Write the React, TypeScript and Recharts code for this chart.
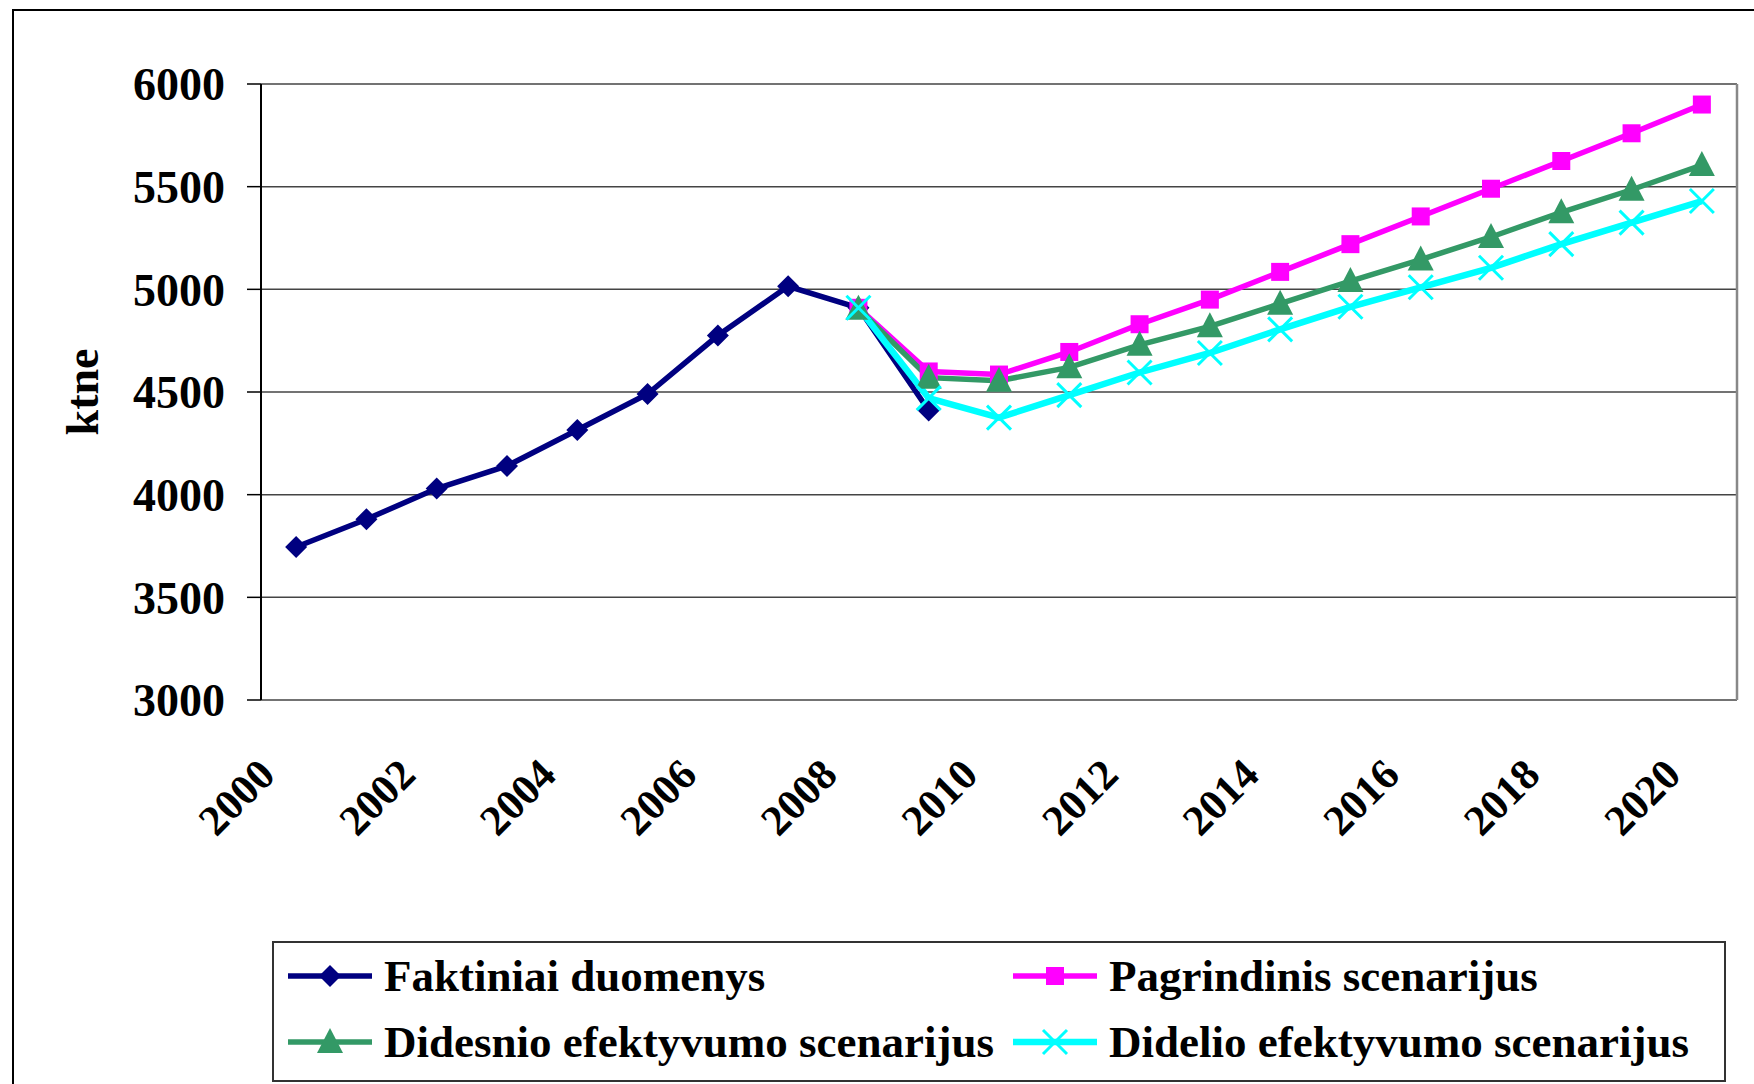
import React from 'react';
import { LineChart, Line, XAxis, YAxis, CartesianGrid, ReferenceLine } from 'recharts';

const years = [2000, 2001, 2002, 2003, 2004, 2005, 2006, 2007, 2008, 2009, 2010, 2011, 2012, 2013, 2014, 2015, 2016, 2017, 2018, 2019, 2020];
const labelYears = [2000, 2002, 2004, 2006, 2008, 2010, 2012, 2014, 2016, 2018, 2020];
const yTicks = [3000, 3500, 4000, 4500, 5000, 5500, 6000];

const faktiniai = [3745, 3880, 4030, 4140, 4315, 4490, 4775, 5015, 4910, 4410, null, null, null, null, null, null, null, null, null, null, null];
const pagrindinis = [null, null, null, null, null, null, null, null, 4910, 4600, 4585, 4695, 4830, 4950, 5085, 5220, 5355, 5490, 5625, 5760, 5900];
const didesnio = [null, null, null, null, null, null, null, null, 4905, 4570, 4555, 4620, 4730, 4820, 4930, 5040, 5145, 5255, 5375, 5485, 5605];
const didelio = [null, null, null, null, null, null, null, null, 4910, 4470, 4375, 4485, 4595, 4690, 4805, 4915, 5010, 5105, 5220, 5325, 5430];

const series = [
  { key: 'faktiniai', name: 'Faktiniai duomenys', color: '#000080', shape: 'diamond', width: 5.5 },
  { key: 'pagrindinis', name: 'Pagrindinis scenarijus', color: '#ff00ff', shape: 'square', width: 5.5 },
  { key: 'didesnio', name: 'Didesnio efektyvumo scenarijus', color: '#339966', shape: 'triangle', width: 5.5 },
  { key: 'didelio', name: 'Didelio efektyvumo scenarijus', color: '#00ffff', shape: 'cross', width: 6.5 },
];

const data = years.map((year, i) => ({
  x: i + 0.5,
  year,
  faktiniai: faktiniai[i],
  pagrindinis: pagrindinis[i],
  didesnio: didesnio[i],
  didelio: didelio[i],
}));

const FONT = '"Liberation Serif", "Times New Roman", serif';

const Marker = ({ shape, cx, cy, color }: any) => {
  if (shape === 'diamond') {
    return <path d={`M${cx},${cy - 11} L${cx + 11},${cy} L${cx},${cy + 11} L${cx - 11},${cy} Z`} fill={color} />;
  }
  if (shape === 'square') {
    return <rect x={cx - 9} y={cy - 9} width={18} height={18} fill={color} />;
  }
  if (shape === 'triangle') {
    return <path d={`M${cx},${cy - 14} L${cx + 13},${cy + 11} L${cx - 13},${cy + 11} Z`} fill={color} />;
  }
  return (
    <path d={`M${cx - 12},${cy - 12} L${cx + 12},${cy + 12} M${cx - 12},${cy + 12} L${cx + 12},${cy - 12}`} stroke={color} strokeWidth={3} fill="none" />
  );
};

const makeDot = (shape: string, color: string) => (props: any) => {
  const { cx, cy, index } = props;
  if (cx == null || cy == null || props.value == null) return <g key={`d-${index}`} />;
  return (
    <g key={`d-${index}`}>
      <Marker shape={shape} cx={cx} cy={cy} color={color} />
    </g>
  );
};

const YearTick = (props: any) => {
  const { x, y, payload } = props;
  const year = years[Math.round(payload.value - 0.5)];
  return (
    <g transform={`translate(${x - 19},${y + 69})`}>
      <text x={0} y={0} textAnchor="end" transform="rotate(-45)" fontFamily={FONT} fontWeight="bold" fontSize={43} fill="#000">
        {year}
      </text>
    </g>
  );
};

const LegendBox = () => (
  <div
    style={{
      position: 'absolute',
      left: 272,
      top: 941,
      width: 1450,
      height: 137,
      border: '2px solid #333',
      background: '#fff',
      display: 'grid',
      gridTemplateColumns: '725px 725px',
      gridTemplateRows: '66px 66px',
      fontFamily: FONT,
      fontWeight: 'bold',
      fontSize: 45,
      color: '#000',
    }}
  >
    {series.map((s) => (
      <div key={s.key} style={{ display: 'flex', alignItems: 'center', paddingLeft: 14 }}>
        <svg width={84} height={30} style={{ marginRight: 12 }}>
          <line x1={0} y1={15} x2={84} y2={15} stroke={s.color} strokeWidth={s.width} />
          <Marker shape={s.shape} cx={42} cy={15} color={s.color} />
        </svg>
        <span style={{ whiteSpace: 'nowrap' }}>{s.name}</span>
      </div>
    ))}
  </div>
);

export default function App() {
  return (
    <div style={{ position: 'relative', width: 1754, height: 1084, overflow: 'hidden', background: '#fff' }}>
      <style>{'body{margin:0;overflow:hidden;}'}</style>
      <div style={{ position: 'absolute', left: 12, top: 9, width: 1800, height: 1200, border: '2px solid #000' }} />
      <div style={{ position: 'absolute', left: 0, top: 0 }}>
        <LineChart width={1754} height={1084} data={data} margin={{ top: 84, right: 17, left: 77, bottom: 184 }}>
          <CartesianGrid vertical={false} stroke="#444" strokeWidth={1.5} />
          <XAxis
            xAxisId="edge"
            type="number"
            dataKey="x"
            domain={[0, 21]}
            ticks={years.map((_, i) => i).concat([years.length])}
            interval={0}
            tick={false}
            tickSize={14}
            height={0}
            axisLine={{ stroke: '#555', strokeWidth: 2.5 }}
            tickLine={{ stroke: '#333', strokeWidth: 1.5 }}
          />
          <XAxis
            xAxisId="cat"
            type="number"
            dataKey="x"
            domain={[0, 21]}
            ticks={labelYears.map((y) => years.indexOf(y) + 0.5)}
            interval={0}
            axisLine={false}
            tickLine={false}
            height={200}
            tick={<YearTick />}
          />
          <YAxis
            domain={[3000, 6000]}
            ticks={yTicks}
            interval={0}
            width={184}
            tickSize={14}
            tickMargin={22}
            axisLine={{ stroke: '#000', strokeWidth: 2 }}
            tickLine={{ stroke: '#000', strokeWidth: 1.5 }}
            tick={{ fontFamily: FONT, fontWeight: 'bold', fontSize: 46, fill: '#000' }}
            label={{
              value: 'ktne',
              angle: -90,
              position: 'insideLeft',
              offset: 5,
              style: { textAnchor: 'middle', fontFamily: FONT, fontWeight: 'bold', fontSize: 46, fill: '#000' },
            }}
          />
          <ReferenceLine xAxisId="edge" x={21} stroke="#888" strokeWidth={2.5} />
          {series.map((s) => (
            <Line
              key={s.key}
              xAxisId="cat"
              type="linear"
              dataKey={s.key}
              name={s.name}
              stroke={s.color}
              strokeWidth={s.width}
              dot={makeDot(s.shape, s.color)}
              activeDot={false}
              connectNulls={false}
              isAnimationActive={false}
            />
          ))}
        </LineChart>
      </div>
      <LegendBox />
    </div>
  );
}
